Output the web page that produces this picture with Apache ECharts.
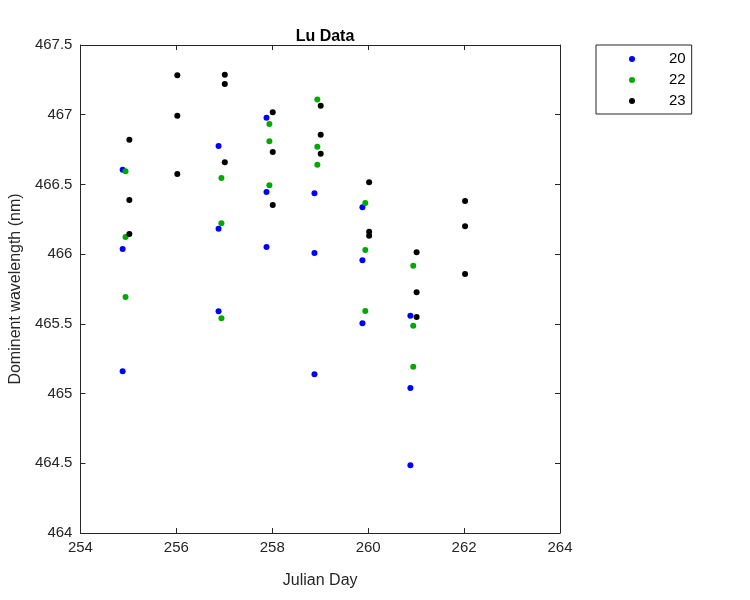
<!DOCTYPE html>
<html>
<head>
<meta charset="utf-8">
<script src="https://cdn.jsdelivr.net/npm/echarts@6/dist/echarts.min.js"></script>
<style>html,body{margin:0;padding:0;background:#fff}#c{width:750px;height:600px}</style>
</head>
<body>
<div id="c"></div>
<script>
var seriesNames = ['20', '22', '23'];
var colors = ['#0000ff', '#00aa00', '#000000'];
var days20 = [254.88, 254.88, 254.88, 256.88, 256.88, 256.88, 257.88, 257.88, 257.88, 258.88, 258.88, 258.88, 259.88, 259.88, 259.88, 260.88, 260.88, 260.88];
var vals20 = [466.606, 466.037, 465.16, 466.776, 466.183, 465.59, 466.979, 466.446, 466.051, 466.436, 466.008, 465.138, 466.336, 465.956, 465.504, 465.559, 465.04, 464.486];
var days22 = [254.94, 254.94, 254.94, 256.94, 256.94, 256.94, 257.94, 257.94, 257.94, 258.94, 258.94, 258.94, 259.94, 259.94, 259.94, 260.94, 260.94, 260.94];
var vals22 = [466.594, 466.123, 465.693, 466.546, 466.221, 465.54, 466.933, 466.809, 466.494, 467.11, 466.771, 466.642, 466.367, 466.03, 465.592, 465.917, 465.487, 465.193];
var days23 = [255.02, 255.02, 255.02, 256.02, 256.02, 256.02, 257.01, 257.01, 257.01, 258.01, 258.01, 258.01, 259.01, 259.01, 259.01, 260.02, 260.02, 260.02, 261.01, 261.01, 261.01, 262.02, 262.02, 262.02];
var vals23 = [466.82, 466.388, 466.144, 467.283, 466.993, 466.575, 467.287, 467.22, 466.659, 467.017, 466.733, 466.352, 467.065, 466.857, 466.72, 466.515, 466.161, 466.132, 466.013, 465.726, 465.549, 466.381, 466.2, 465.858];

function pairs(xs, ys) { return xs.map(function (x, i) { return [x, ys[i]]; }); }
var allDays = [days20, days22, days23];
var allVals = [vals20, vals22, vals23];

var font = 'Liberation Sans, Arial, Helvetica, sans-serif';
var axisColor = '#262626';
function xAxis(pos, labels) {
  return {
    type: 'value', position: pos, min: 254, max: 264, interval: 2,
    axisLine: { show: true, onZero: false, lineStyle: { color: axisColor, width: 1 } },
    axisTick: { show: true, inside: true, length: 5, lineStyle: { color: axisColor } },
    axisLabel: { show: labels, color: axisColor, fontSize: 15, fontFamily: font, margin: 7 },
    splitLine: { show: false },
    name: labels ? 'Julian Day' : '', nameLocation: 'middle', nameGap: 40,
    nameTextStyle: { color: axisColor, fontSize: 16, fontFamily: font }
  };
}
function yAxis(pos, labels) {
  return {
    type: 'value', position: pos, min: 464, max: 467.5, interval: 0.5,
    axisLine: { show: true, onZero: false, lineStyle: { color: axisColor, width: 1 } },
    axisTick: { show: true, inside: true, length: 5, lineStyle: { color: axisColor } },
    axisLabel: { show: labels, color: axisColor, fontSize: 15, fontFamily: font, margin: 8 },
    splitLine: { show: false },
    name: labels ? 'Dominent wavelength (nm)' : '', nameLocation: 'middle', nameGap: 56,
    nameTextStyle: { color: axisColor, fontSize: 16, fontFamily: font }
  };
}

var series = seriesNames.map(function (n, i) {
  return {
    name: n, type: 'scatter', xAxisIndex: 0, yAxisIndex: 0,
    data: pairs(allDays[i], allVals[i]),
    symbol: 'circle', symbolSize: 6,
    itemStyle: { color: colors[i], opacity: 1 },
    emphasis: { disabled: true }
  };
});

var chart = echarts.init(document.getElementById('c'), null, { renderer: 'canvas' });
chart.setOption({
  animation: false,
  backgroundColor: '#ffffff',
  title: {
    text: 'Lu Data', left: 320, top: 24, textAlign: 'center',
    textStyle: { fontSize: 16, fontWeight: 'bold', color: '#000', fontFamily: font }
  },
  grid: { left: 80, top: 45, width: 480, height: 488, containLabel: false },
  xAxis: [xAxis('bottom', true), xAxis('top', false)],
  yAxis: [yAxis('left', true), yAxis('right', false)],
  legend: {
    orient: 'vertical', left: 596, top: 45,
    data: seriesNames.map(function (n) { return { name: n, icon: 'circle', itemStyle: { opacity: 1 } }; }),
    itemWidth: 6, itemHeight: 6, itemGap: 5,
    padding: [6, 6, 5, 33],
    borderColor: axisColor, borderWidth: 1,
    textStyle: { fontSize: 15, color: '#000', fontFamily: font, padding: [0, 0, 0, 29], lineHeight: 16 },
    selectedMode: false
  },
  series: series
});
</script>
</body>
</html>
